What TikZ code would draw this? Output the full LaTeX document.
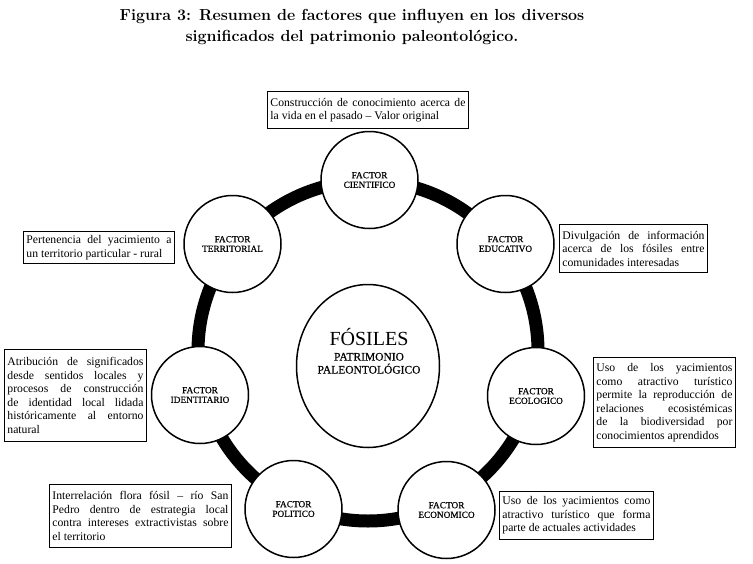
\documentclass[tikz,border=0pt]{standalone}
\usepackage{fontspec}
\newfontfamily\tnr{Liberation Serif}
\newfontfamily\tnrb[FakeBold=0.5]{Liberation Serif}
\usetikzlibrary{shapes.geometric}
\newcommand{\jline}[2]{\makebox[#1][s]{#2}}
\newcommand{\lline}[2]{\makebox[#1][l]{#2}}
\begin{document}
\begin{tikzpicture}[x=1pt,y=-1pt]
\tikzset{
  ring/.style={line width=13pt, draw=black},
  factor/.style={circle, draw, line width=1.5pt, fill=white, minimum size=97pt, inner sep=0pt,
     font=\tnrb\fontsize{9.3}{9.6}\selectfont, align=center},
  desc/.style={draw, line width=0.9pt, inner sep=0pt, anchor=north west, align=left,
     font=\tnr\fontsize{11.7}{13.5}\selectfont},
  title/.style={font=\bfseries\fontsize{16}{21}\selectfont, align=center}
}
\useasboundingbox[fill=white] (0,0) rectangle (753,563);
% title
\node[title] (ttl) at (352,27) {Figura 3: Resumen de factores que influyen en los diversos\\significados del patrimonio paleontológico.};
% ring
\coordinate (rc) at (368,351);
\draw[ring] (rc) circle[radius=170];
% center
\node[ellipse, draw, line width=1.5pt, fill=white, minimum width=143pt, minimum height=163pt, inner sep=0pt] (fos) at (368,366) {};
\node[align=center, font=\tnrb\fontsize{11.5}{13}\selectfont, inner sep=0pt] (fostxt) at (369,351)
  {{\tnr\fontsize{20}{13}\selectfont FÓSILES}\\[2pt]PATRIMONIO\\PALEONTOLÓGICO};
% factors
\node[factor] (cien) at (369.5,180) {FACTOR\\CIENTIFICO};
\node[factor] (terr) at (232.5,244) {FACTOR\\TERRITORIAL};
\node[factor] (educ) at (505.5,244) {FACTOR\\EDUCATIVO};
\node[factor] (iden) at (200,395) {FACTOR\\IDENTITARIO};
\node[factor] (ecol) at (536,396) {FACTOR\\ECOLOGICO};
\node[factor] (poli) at (293.5,509) {FACTOR\\POLITICO};
\node[factor] (econ) at (446.5,510) {FACTOR\\ECONOMICO};
% description boxes
\node[desc, minimum width=201pt, minimum height=37pt] (dcien) at (267,91)
  {\jline{195pt}{Construcción de conocimiento acerca de}\\\lline{195pt}{la vida en el pasado – Valor original}};
\node[desc, minimum width=151pt, minimum height=32pt] (dterr) at (23,231)
  {\jline{145pt}{Pertenencia del yacimiento a}\\\lline{145pt}{un territorio particular - rural}};
\node[desc, minimum width=148pt, minimum height=48pt] (deduc) at (559,224)
  {\jline{142pt}{Divulgación de información}\\\jline{142pt}{acerca de los fósiles entre}\\\lline{142pt}{comunidades interesadas}};
\node[desc, minimum width=142pt, minimum height=92pt] (diden) at (4,349)
  {\jline{136pt}{Atribución de significados}\\\jline{136pt}{desde sentidos locales y}\\\jline{136pt}{procesos de construcción}\\\jline{136pt}{de identidad local lidada}\\\jline{136pt}{históricamente al entorno}\\\lline{136pt}{natural}};
\node[desc, minimum width=142pt, minimum height=90pt] (decol) at (593,357)
  {\jline{136pt}{Uso de los yacimientos}\\\jline{136pt}{como atractivo turístico}\\\jline{136pt}{permite la reproducción de}\\\jline{136pt}{relaciones ecosistémicas}\\\jline{136pt}{de la biodiversidad por}\\\lline{136pt}{conocimientos aprendidos}};
\node[desc, minimum width=182pt, minimum height=63pt] (dpoli) at (49,484)
  {\jline{176pt}{Interrelación flora fósil – río San}\\\jline{176pt}{Pedro dentro de estrategia local}\\\jline{176pt}{contra intereses extractivistas sobre}\\\lline{176pt}{el territorio}};
\node[desc, minimum width=154pt, minimum height=48pt] (decon) at (499,491)
  {\jline{148pt}{Uso de los yacimientos como}\\\jline{148pt}{atractivo turístico que forma}\\\lline{148pt}{parte de actuales actividades}};
\end{tikzpicture}
\end{document}
